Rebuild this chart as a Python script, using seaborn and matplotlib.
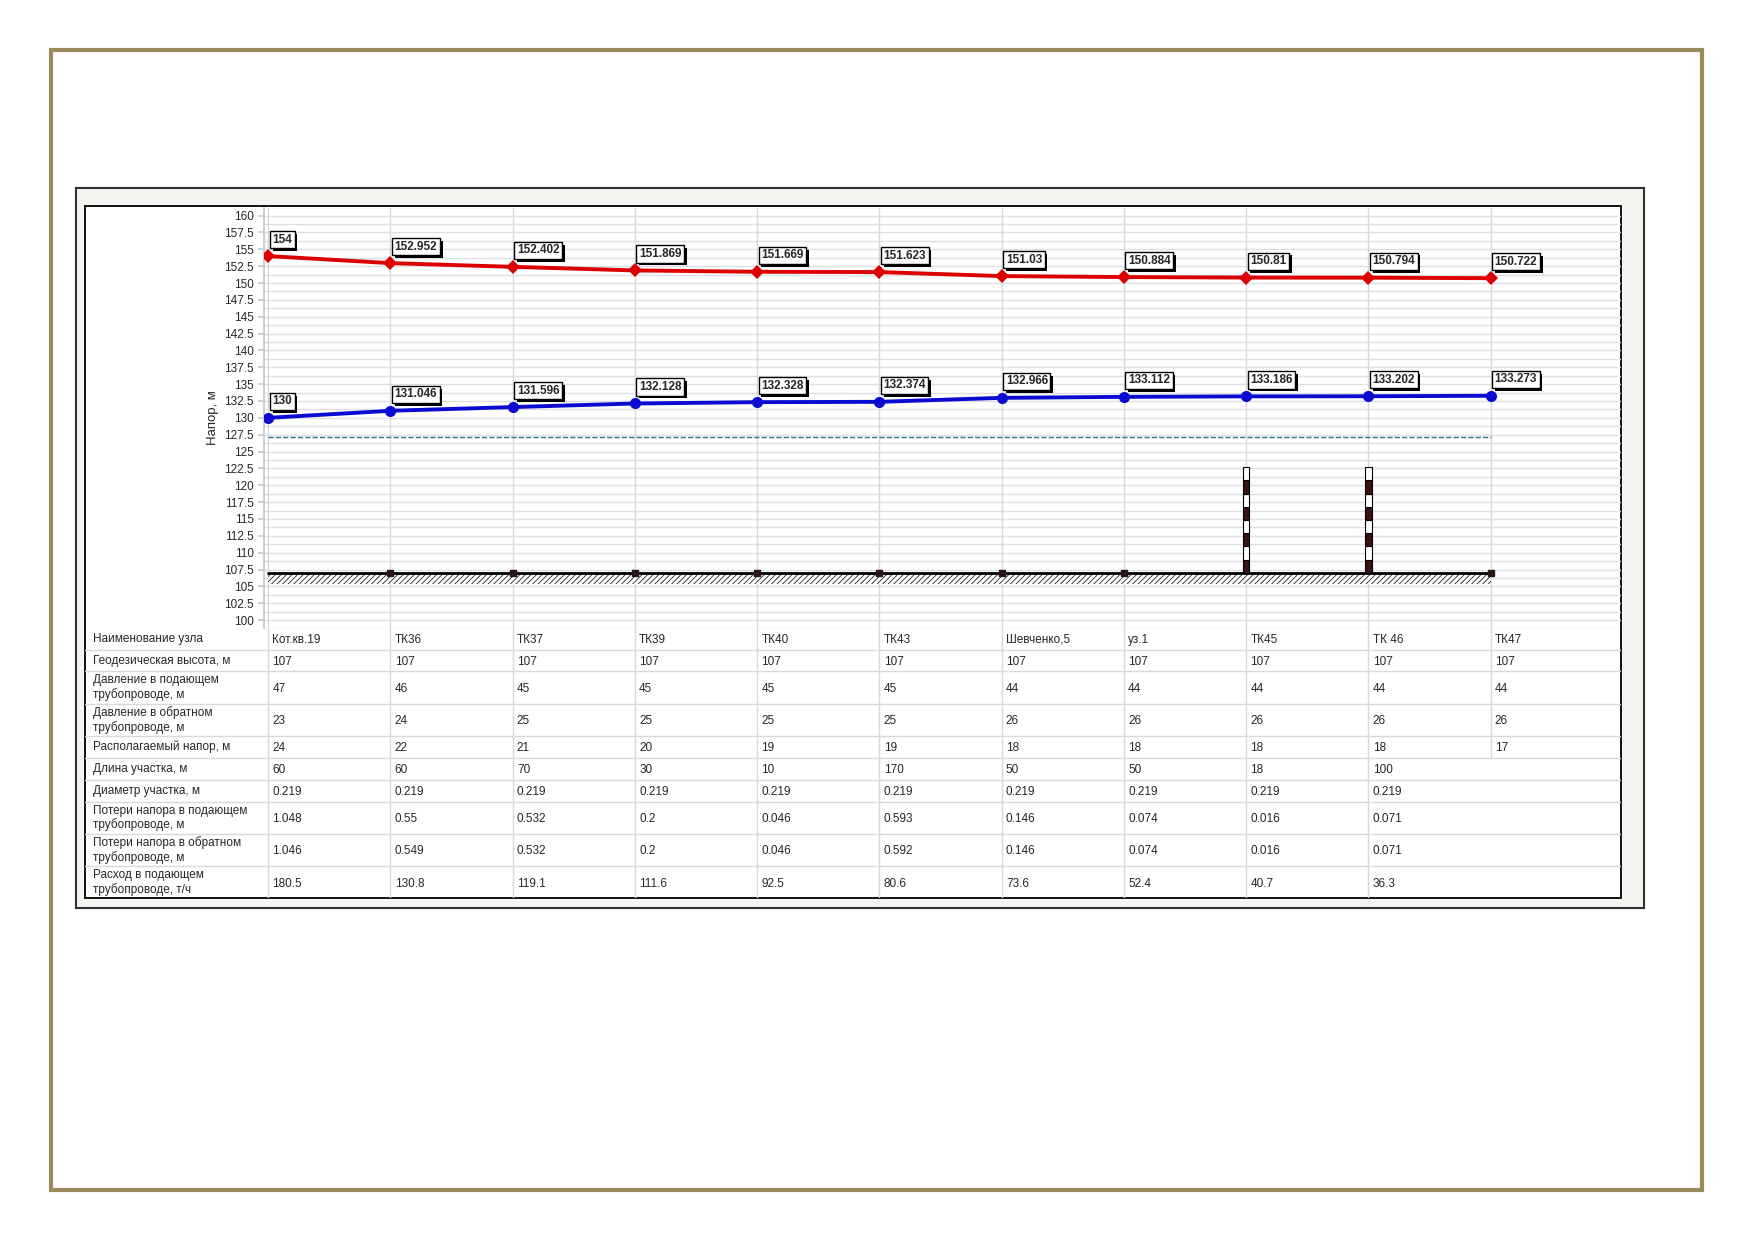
import numpy as np
import matplotlib
matplotlib.use('Agg')
import matplotlib.pyplot as plt
import matplotlib.patheffects as pe
from matplotlib.patches import Rectangle
import seaborn as sns

# node names and values
nodes = ['Кот.кв.19', 'ТК36', 'ТК37', 'ТК39', 'ТК40', 'ТК43', 'Шевченко,5',
         'уз.1', 'ТК45', 'ТК 46', 'ТК47']
head_supply = [154, 152.952, 152.402, 151.869, 151.669, 151.623, 151.03,
               150.884, 150.81, 150.794, 150.722]
head_return = [130, 131.046, 131.596, 132.128, 132.328, 132.374, 132.966,
               133.112, 133.186, 133.202, 133.273]
ground = [107, 107, 107, 107, 107, 107, 107, 107, 107, 107, 107]
static_head = 127.2
building_nodes = ['ТК45', 'ТК 46']
building_top = [122.7, 122.7]

p_supply = [47, 46, 45, 45, 45, 45, 44, 44, 44, 44, 44]
p_return = [23, 24, 25, 25, 25, 25, 26, 26, 26, 26, 26]
avail_head = [24, 22, 21, 20, 19, 19, 18, 18, 18, 18, 17]
seg_length = [60, 60, 70, 30, 10, 170, 50, 50, 18, 100]
seg_diam = [0.219, 0.219, 0.219, 0.219, 0.219, 0.219, 0.219, 0.219, 0.219, 0.219]
loss_supply = [1.048, 0.55, 0.532, 0.2, 0.046, 0.593, 0.146, 0.074, 0.016, 0.071]
loss_return = [1.046, 0.549, 0.532, 0.2, 0.046, 0.592, 0.146, 0.074, 0.016, 0.071]
flow_supply = [180.5, 130.8, 119.1, 111.6, 92.5, 80.6, 73.6, 52.4, 40.7, 36.3]

row_labels = ['Наименование узла', 'Геодезическая высота, м',
              'Давление в подающем\nтрубопроводе, м',
              'Давление в обратном\nтрубопроводе, м',
              'Располагаемый напор, м', 'Длина участка, м',
              'Диаметр участка, м',
              'Потери напора в подающем\nтрубопроводе, м',
              'Потери напора в обратном\nтрубопроводе, м',
              'Расход в подающем\nтрубопроводе, т/ч']
row_values = [nodes, ground, p_supply, p_return, avail_head, seg_length,
              seg_diam, loss_supply, loss_return, flow_supply]

sns.set_theme(style='white')
plt.rcParams['font.family'] = ['Liberation Sans', 'DejaVu Sans']
plt.rcParams['hatch.linewidth'] = 0.6

W, H = 1568.0, 1109.0  # layout measured on the reference


def fx(px):
    return px / W


def fy(py):
    return 1 - py / H


fig = plt.figure(figsize=(17.52, 12.39), dpi=100)
fig.patch.set_facecolor('white')

# page frame and window
fig.add_artist(Rectangle((fx(46), fy(1065)), fx(1523) - fx(46), fy(45) - fy(1065),
                         transform=fig.transFigure, fill=False, edgecolor='#9a8c5a',
                         lw=3, zorder=-3))
fig.add_artist(Rectangle((fx(68), fy(813)), fx(1471) - fx(68), fy(168) - fy(813),
                         transform=fig.transFigure, facecolor='#f4f4f0',
                         edgecolor='#333333', lw=1.5, zorder=-2))
fig.add_artist(Rectangle((fx(76), fy(804)), fx(1451) - fx(76), fy(184) - fy(804),
                         transform=fig.transFigure, facecolor='white',
                         edgecolor='black', lw=1.3, zorder=-1))

x0, dx = 240.0, 109.4
x = np.arange(len(nodes))

ax = fig.add_axes([fx(236), fy(562), fx(1451) - fx(236), fy(186) - fy(562)])
ax.set_facecolor('none')
ax.set_xlim((236 - x0) / dx, (1451 - x0) / dx)
ax.set_ylim(100 - 7 / 6.033, 160 + 7 / 6.033)

for yy in np.arange(98.75, 161.3, 1.25):
    ax.axhline(yy, color='#dedee4', lw=1, zorder=0)
for xx in x:
    ax.axvline(xx, color='#d8d8e0', lw=1, zorder=0)

ax.set_yticks(np.arange(100, 160.1, 2.5))
ax.set_yticklabels([f'{v:g}' for v in np.arange(100, 160.1, 2.5)], fontsize=8.5)
ax.tick_params(axis='y', length=4, color='#c8c8d0', pad=3, left=True)
ax.set_xticks([])
for s in ax.spines.values():
    s.set_visible(False)
ax.spines['left'].set_visible(True)
ax.spines['left'].set_color('#c8c8d0')
ax.set_ylabel('Напор, м', fontsize=9.5)
ax.yaxis.set_label_coords(-0.033, 0.5)

# ground
ax.fill_between(x, 105.4, ground, facecolor='white', edgecolor='#222222',
                hatch='//////', linewidth=0, zorder=2)
ax.plot(x, ground, color='black', lw=2, zorder=3)
sq = [i for i, n in enumerate(nodes) if i > 0 and n not in building_nodes]
ax.plot(x[sq], np.array(ground)[sq], 's', color='#2a1414', ms=5, zorder=4)

# buildings
for n, top in zip(building_nodes, building_top):
    i = nodes.index(n)
    base = ground[i]
    nseg = 8
    h = (top - base) / nseg
    for k in range(nseg):
        c = '#3a1414' if k % 2 == 0 else 'white'
        ax.bar(x[i], h, bottom=base + k * h, width=0.055, color=c,
               edgecolor='black', linewidth=0.8, zorder=5)

ax.plot([x[0], x[-1]], [static_head, static_head], ls='--', color='#2f6f8a', lw=1, zorder=3)

sns.lineplot(x=x, y=head_supply, ax=ax, color='#dc0000', lw=2.8, marker='D',
             markersize=7, markeredgewidth=0, zorder=6)
sns.lineplot(x=x, y=head_return, ax=ax, color='#0a0ad0', lw=2.8, marker='o',
             markersize=8, markeredgewidth=0, zorder=6)

shadow = [pe.withSimplePatchShadow(offset=(2, -2), shadow_rgbFace='black', alpha=1)]
for series in (head_supply, head_return):
    for xi, v in zip(x, series):
        t = ax.annotate(f'{v:g}', (xi, v), xytext=(3, 7.5), textcoords='offset points',
                        ha='left', va='bottom', fontsize=8.5, fontweight='bold',
                        bbox=dict(boxstyle='square,pad=0.22', fc='white', ec='black', lw=1),
                        zorder=8)
        t.get_bbox_patch().set_path_effects(shadow)

# table under the chart
tab = fig.add_axes([fx(76), fy(804), fx(1451) - fx(76), fy(562) - fy(804)])
tab.set_xlim((76 - x0) / dx, (1451 - x0) / dx)
tab.set_ylim(804, 562)
tab.axis('off')
row_h = [19.5 if '\n' not in lab else 29 for lab in row_labels]
top = 562.0
for r, (lab, vals) in enumerate(zip(row_labels, row_values)):
    bot = top + row_h[r]
    mid = (top + bot) / 2
    tab.text((83 - x0) / dx, mid, lab, ha='left', va='center', fontsize=8.5,
             linespacing=1.15)
    for i, v in enumerate(vals):
        tab.text(x[i] + 0.035, mid + 1, f'{v:g}' if not isinstance(v, str) else v,
                 ha='left', va='center', fontsize=8.5)
        tab.plot([x[i], x[i]], [top, bot], color='#d8d8e0', lw=1)
    if r < len(row_labels) - 1:
        tab.axhline(bot, color='#d8d8e0', lw=1)
    top = bot

fig.savefig('out.png', dpi=100, facecolor='white')
